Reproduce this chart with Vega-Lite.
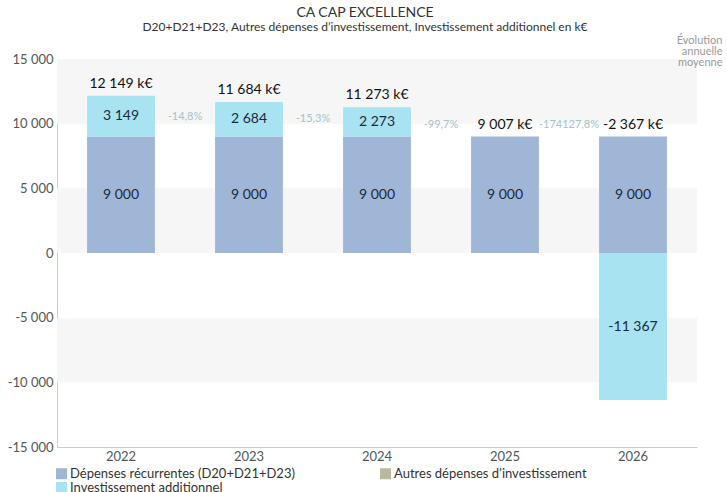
{
  "$schema": "https://vega.github.io/schema/vega-lite/v6.json",
  "width": 640,
  "height": 388,
  "autosize": {"type": "none"},
  "padding": {"left": 57, "top": 59, "right": 30, "bottom": 45},
  "background": "white",
  "config": {
    "font": "Lato",
    "locale": {"number": {"decimal": ",", "thousands": " ", "grouping": [3], "currency": ["", " €"], "minus": "-"}},
    "view": {"stroke": null}
  },
  "title": {
    "text": "CA CAP EXCELLENCE",
    "subtitle": "D20+D21+D23, Autres dépenses d’investissement, Investissement additionnel en k€",
    "anchor": "middle",
    "frame": "group",
    "font": "Lato",
    "subtitleFont": "Lato",
    "fontSize": 14,
    "subtitleFontSize": 12,
    "fontWeight": "normal",
    "color": "#333333",
    "subtitleColor": "#333333",
    "offset": 1,
    "dx": -12,
    "subtitlePadding": 2
  },
  "datasets": {
    "bars": [
      {"year": "2022", "series": "Dépenses récurrentes (D20+D21+D23)", "k": 1, "value": 9000},
      {"year": "2022", "series": "Autres dépenses d’investissement", "k": 2, "value": 0},
      {"year": "2022", "series": "Investissement additionnel", "k": 3, "value": 3149},
      {"year": "2023", "series": "Dépenses récurrentes (D20+D21+D23)", "k": 1, "value": 9000},
      {"year": "2023", "series": "Autres dépenses d’investissement", "k": 2, "value": 0},
      {"year": "2023", "series": "Investissement additionnel", "k": 3, "value": 2684},
      {"year": "2024", "series": "Dépenses récurrentes (D20+D21+D23)", "k": 1, "value": 9000},
      {"year": "2024", "series": "Autres dépenses d’investissement", "k": 2, "value": 0},
      {"year": "2024", "series": "Investissement additionnel", "k": 3, "value": 2273},
      {"year": "2025", "series": "Dépenses récurrentes (D20+D21+D23)", "k": 1, "value": 9000},
      {"year": "2025", "series": "Autres dépenses d’investissement", "k": 2, "value": 0},
      {"year": "2025", "series": "Investissement additionnel", "k": 3, "value": 7},
      {"year": "2026", "series": "Dépenses récurrentes (D20+D21+D23)", "k": 1, "value": 9000},
      {"year": "2026", "series": "Autres dépenses d’investissement", "k": 2, "value": 0},
      {"year": "2026", "series": "Investissement additionnel", "k": 3, "value": -11367}
    ],
    "bands": [
      {"lo": 10000, "hi": 15000},
      {"lo": 0, "hi": 5000},
      {"lo": -10000, "hi": -5000}
    ],
    "growth": [
      {"year": "2022", "label": "-14,8%", "pos": 10500},
      {"year": "2023", "label": "-15,3%", "pos": 10350},
      {"year": "2024", "label": "-99,7%", "pos": 9900},
      {"year": "2025", "label": "-174127,8%", "pos": 9900}
    ]
  },
  "layer": [
    {
      "data": {"name": "bands"},
      "mark": {"type": "rect", "color": "#f6f6f6"},
      "encoding": {
        "y": {
          "field": "lo", "type": "quantitative",
          "scale": {"domain": [-15000, 15000], "nice": false, "zero": false},
          "axis": {
            "orient": "right", "labels": false, "ticks": false, "domain": false, "grid": false,
            "title": ["Évolution", "annuelle", "moyenne"], "zindex": 2,
            "titleAngle": 0, "titleAlign": "right", "titleBaseline": "top",
            "titleX": 25, "titleY": -25, "titleFont": "Lato", "titleFontSize": 11,
            "titleFontWeight": "normal", "titleColor": "#999999", "titleLineHeight": 11
          }
        },
        "y2": {"field": "hi"}
      }
    },
    {
      "data": {"name": "bars"},
      "mark": {"type": "bar", "width": {"band": 0.53}},
      "encoding": {
        "x": {
          "field": "year", "type": "nominal",
          "scale": {"paddingInner": 0, "paddingOuter": 0},
          "axis": {
            "title": null, "labelAngle": 0, "ticks": false, "domainColor": "#cccccc",
            "labelFontSize": 13, "labelColor": "#555555", "labelPadding": 3, "labelFont": "Lato"
          }
        },
        "y": {
          "field": "value", "type": "quantitative", "stack": "zero",
          "axis": {
            "orient": "left", "title": null, "values": [-15000, -10000, -5000, 0, 5000, 10000, 15000],
            "format": ",d", "ticks": false, "grid": false, "domainColor": "#cccccc",
            "labelFontSize": 13, "labelColor": "#555555", "labelPadding": 4, "labelFont": "Lato"
          }
        },
        "color": {
          "field": "series", "type": "nominal",
          "scale": {
            "domain": ["Dépenses récurrentes (D20+D21+D23)", "Autres dépenses d’investissement", "Investissement additionnel"],
            "range": ["#9fb6d6", "#bcb8a0", "#a8e3f2"]
          },
          "legend": {
            "orient": "none", "legendX": -2, "legendY": 408, "columns": 2, "direction": "horizontal",
            "title": null, "symbolType": "square", "symbolSize": 121, "symbolStrokeWidth": 0,
            "labelFontSize": 13, "labelColor": "#333333", "labelFont": "Lato", "labelOffset": 2,
            "labelLimit": 0, "columnPadding": 84, "rowPadding": 0
          }
        },
        "order": {"field": "k", "type": "quantitative"}
      }
    },
    {
      "data": {"name": "bars"},
      "transform": [
        {"filter": "datum.value != 0 && abs(datum.value) > 100"},
        {"stack": "value", "groupby": ["year"], "sort": [{"field": "k", "order": "ascending"}], "as": ["v0", "v1"]},
        {"calculate": "(datum.v0 + datum.v1) / 2", "as": "mid"}
      ],
      "mark": {"type": "text", "fontSize": 14, "color": "#1b2a3a", "baseline": "middle", "font": "Lato"},
      "encoding": {
        "x": {"field": "year", "type": "nominal"},
        "y": {"field": "mid", "type": "quantitative", "axis": null},
        "text": {"field": "value", "type": "quantitative", "format": ",d"}
      }
    },
    {
      "data": {"name": "bars"},
      "transform": [
        {"calculate": "max(datum.value, 0)", "as": "pos"},
        {"aggregate": [{"op": "sum", "field": "value", "as": "total"}, {"op": "sum", "field": "pos", "as": "top"}], "groupby": ["year"]},
        {"calculate": "format(datum.total, ',d') + ' k€'", "as": "label"}
      ],
      "mark": {"type": "text", "fontSize": 14, "color": "#111111", "baseline": "bottom", "dy": -5, "font": "Lato"},
      "encoding": {
        "x": {"field": "year", "type": "nominal"},
        "y": {"field": "top", "type": "quantitative", "axis": null},
        "text": {"field": "label", "type": "nominal"}
      }
    },
    {
      "data": {"name": "growth"},
      "mark": {"type": "text", "fontSize": 11, "color": "#a3c4c7", "baseline": "middle", "font": "Lato"},
      "encoding": {
        "x": {"field": "year", "type": "nominal", "bandPosition": 1},
        "y": {"field": "pos", "type": "quantitative", "axis": null},
        "text": {"field": "label", "type": "nominal"}
      }
    }
  ],
  "resolve": {"axis": {"y": "independent"}}
}
